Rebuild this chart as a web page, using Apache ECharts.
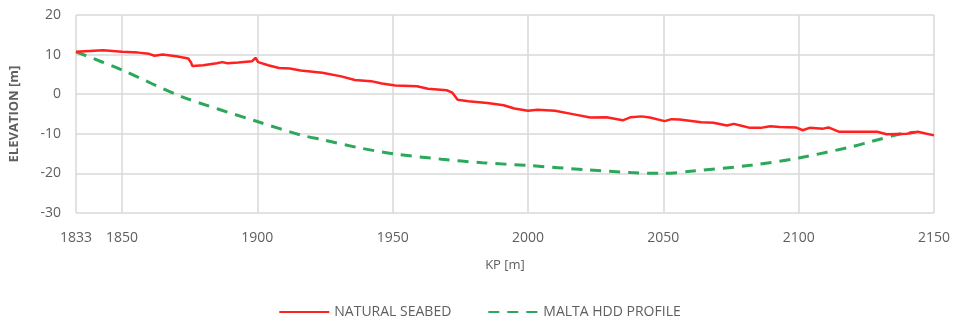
<!DOCTYPE html>
<html>
<head>
<meta charset="utf-8">
<script src="https://cdn.jsdelivr.net/npm/echarts@6/dist/echarts.min.js"></script>
<style>
  html, body { margin: 0; padding: 0; background: #fff; }
  #profileChart { width: 959px; height: 326px; }
</style>
</head>
<body>
<div id="profileChart"></div>
<script>
    // tick labels on the KP axis
    var kpTicks = [1833, 1850, 1900, 1950, 2000, 2050, 2100, 2150];

    // natural seabed
    var kpSeabed = [1833, 1838, 1843, 1850, 1856, 1860, 1862, 1865, 1870, 1874.5, 1875.5, 1876, 1880, 1885, 1887, 1889, 1893, 1898, 1899.3, 1900.3,
        1904, 1908, 1912, 1916, 1924, 1931, 1936, 1942, 1946, 1951, 1959, 1963, 1970, 1972, 1974, 1978, 1985, 1991, 1995, 2000,
        2003.5, 2010, 2017, 2023, 2029, 2035, 2038, 2042, 2045, 2050.5, 2053, 2056, 2064, 2068.5, 2073.5, 2076, 2078.5, 2082, 2086, 2089.5,
        2093, 2099, 2101.5, 2104, 2109, 2111, 2115, 2120, 2129, 2132.5, 2140, 2144, 2150];
    var elevSeabed = [10.7, 10.9, 11.1, 10.7, 10.5, 10.2, 9.7, 10.0, 9.6, 9.0, 8.0, 7.1, 7.3, 7.8, 8.1, 7.8, 8.0, 8.3, 9.2, 8.1,
        7.3, 6.6, 6.5, 6.0, 5.4, 4.5, 3.6, 3.3, 2.7, 2.2, 2.0, 1.4, 1.0, 0.4, -1.4, -1.8, -2.2, -2.8, -3.6, -4.2,
        -3.9, -4.2, -5.1, -5.9, -5.8, -6.6, -5.8, -5.6, -5.9, -6.8, -6.3, -6.4, -7.1, -7.2, -7.9, -7.5, -7.9, -8.5, -8.5, -8.1,
        -8.3, -8.4, -9.1, -8.5, -8.7, -8.4, -9.5, -9.5, -9.5, -10.1, -10.0, -9.5, -10.4];

    // malta hdd profile
    var kpHdd = [1833, 1850, 1872, 1900, 1916, 1924, 1938, 1951, 1968, 1983, 2000, 2022, 2038, 2050, 2061, 2083, 2100, 2120, 2127, 2138, 2143];
    var elevHdd = [10.7, 6.1, -0.6, -6.9, -10.3, -11.5, -13.6, -15.1, -16.4, -17.3, -18.0, -19.1, -19.8, -20.0, -19.4, -17.9, -16.1, -13.2, -11.9, -10.0, -9.6];

    function pairs(xs, ys) {
        var out = [];
        for (var i = 0; i < xs.length; i++) {
            out.push([xs[i], ys[i]]);
        }
        return out;
    }

    var txtColor = '#5f5f5f';
    var gridColor = '#d9d9d9';
    var font = 'Open Sans';

    var myChart = echarts.init(document.getElementById('profileChart'));

    var option = {
        animation: false,
        grid: { left: 74, right: 25, top: 15, bottom: 113 },
        legend: {
            bottom: 2,
            left: 'center',
            itemWidth: 50,
            itemHeight: 10,
            itemGap: 36,
            itemStyle: { opacity: 0 },
            textStyle: { color: txtColor, fontFamily: font, fontSize: 14 },
            data: ['NATURAL SEABED', 'MALTA HDD PROFILE']
        },
        xAxis: {
            type: 'value',
            min: 1833,
            max: 2150,
            name: 'KP [m]',
            nameLocation: 'middle',
            nameGap: 46,
            nameTextStyle: { color: txtColor, fontFamily: font, fontSize: 13 },
            axisLine: { show: false },
            axisTick: { show: false, customValues: kpTicks },
            axisLabel: {
                customValues: kpTicks,
                formatter: function (v) { return String(v); },
                color: txtColor, fontFamily: font, fontSize: 14, margin: 18
            },
            splitLine: { show: true, lineStyle: { color: gridColor, width: 1.5 } }
        },
        yAxis: {
            type: 'value',
            min: -30,
            max: 20,
            interval: 10,
            name: 'ELEVATION [m]',
            nameLocation: 'middle',
            nameGap: 55,
            nameTextStyle: { color: txtColor, fontFamily: font, fontSize: 13, fontWeight: 'bold' },
            axisLine: { show: false },
            axisTick: { show: false },
            axisLabel: { color: txtColor, fontFamily: font, fontSize: 14, margin: 15 },
            splitLine: { lineStyle: { color: gridColor, width: 1.5 } }
        },
        series: [
            {
                name: 'NATURAL SEABED',
                type: 'line',
                data: pairs(kpSeabed, elevSeabed),
                symbol: 'none',
                lineStyle: { color: '#ff2020', width: 2.5 },
                itemStyle: { color: '#ff2020' },
                z: 3
            },
            {
                name: 'MALTA HDD PROFILE',
                type: 'line',
                data: pairs(kpHdd, elevHdd),
                symbol: 'none',
                smooth: 0.3,
                lineStyle: { color: '#2ba85a', width: 3, type: [11, 8] },
                itemStyle: { color: '#2ba85a' },
                z: 2
            }
        ]
    };

    myChart.setOption(option);
</script>
</body>
</html>
